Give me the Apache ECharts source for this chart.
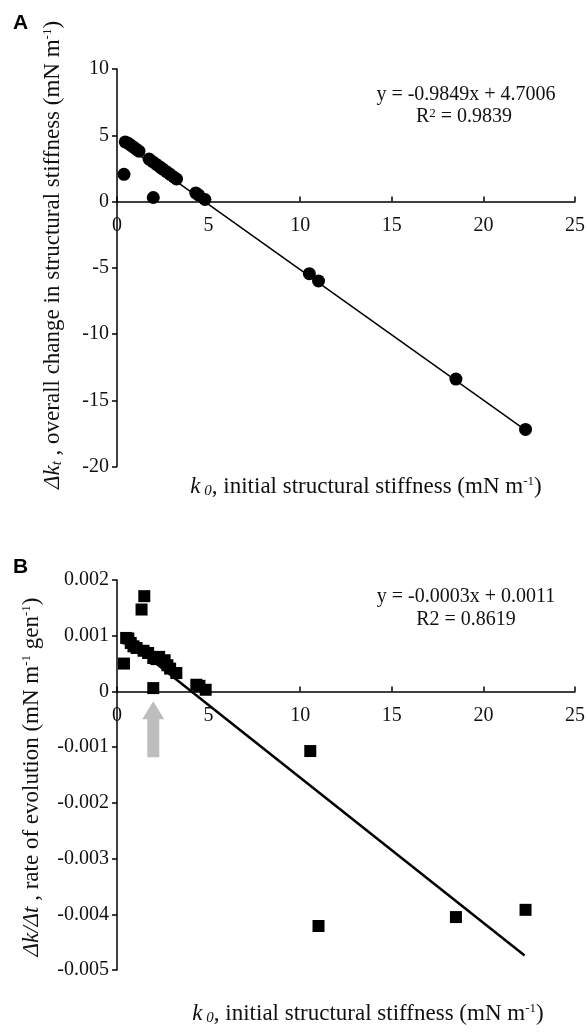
<!DOCTYPE html>
<html>
<head>
<meta charset="utf-8">
<script src="https://cdn.jsdelivr.net/npm/echarts@6/dist/echarts.min.js"></script>
<style>
  html, body { margin: 0; padding: 0; background: #fff; }
  #chart { width: 588px; height: 1032px; }
</style>
</head>
<body>
<div id="chart"></div>
<script>
// panel A: overall change in stiffness vs initial stiffness
const kA = [0.38, 0.45, 0.6, 0.75, 0.9, 1.05, 1.2, 1.75, 1.95, 2.15, 2.35, 2.5, 2.7, 2.9, 3.1, 3.25, 1.98, 4.3, 4.45, 4.8, 10.5, 11.0, 18.5, 22.3];
const dkA = [2.05, 4.5, 4.4, 4.25, 4.1, 3.95, 3.8, 3.2, 3.0, 2.8, 2.6, 2.45, 2.25, 2.05, 1.85, 1.7, 0.3, 0.65, 0.5, 0.15, -5.45, -6.0, -13.4, -17.2];
const trendA = [[0.3, 4.4], [22.3, -17.26]];

// panel B: rate of evolution vs initial stiffness
const kB = [0.38, 0.5, 0.62, 0.75, 0.9, 1.07, 1.34, 1.49, 1.45, 1.7, 1.98, 2.15, 2.3, 2.6, 2.75, 2.9, 3.24, 1.98, 4.33, 4.5, 4.84, 10.55, 11.0, 18.5, 22.3];
const rateB = [0.0005, 0.00096, 0.00095, 0.00087, 0.00081, 0.00078, 0.00147, 0.00171, 0.00073, 0.00069, 0.0006, 0.00058, 0.00062, 0.00056, 0.00047, 0.00041, 0.00033, 0.00006, 0.00012, 0.0001, 0.00003, -0.00107, -0.00421, -0.00405, -0.00392];
const trendB = [[0.38, 0.00096], [22.25, -0.00474]];
const arrowAt = [1.98, -0.00068];

const xTicks = [0, 25, 5];       // min, max, interval
const yTicksA = [-20, 10, 5];
const yTicksB = [-0.005, 0.002, 0.001];

function zip(xs, ys) { return xs.map((x, i) => [x, ys[i]]); }

// grid boxes (px)
const gridA = { top: 69, height: 397.5 };
const gridB = { top: 580, height: 390 };
// distance from grid bottom up to the y = 0 line, so the x axis sits on zero
function zeroOffset(g, yt) {
  return -g.height * (0 - yt[0]) / (yt[1] - yt[0]);
}

const serif = 'Liberation Serif';
const rich = {
  i: { fontFamily: serif, fontSize: 23, fontStyle: 'italic' },
  sub: { fontFamily: serif, fontSize: 15, fontStyle: 'italic', verticalAlign: 'bottom' },
  sup: { fontFamily: serif, fontSize: 13, verticalAlign: 'top' }
};

function txt(text, x, y, size, rot) {
  return {
    type: 'text', x: x, y: y, rotation: rot || 0,
    style: {
      text: text, fontFamily: serif, fontSize: size, fill: '#111',
      align: 'center', verticalAlign: 'middle', rich: rich
    }
  };
}

const axisLine = { lineStyle: { color: '#000', width: 1.5 } };
const labelStyle = { fontFamily: serif, fontSize: 20, color: '#111' };

let chart = echarts.init(document.getElementById('chart'));
chart.setOption({
  animation: false,
  grid: [
    { left: 117, right: 11, top: gridA.top, height: gridA.height },
    { left: 117, right: 11, top: gridB.top, height: gridB.height }
  ],
  xAxis: [[gridA, yTicksA], [gridB, yTicksB]].map((p, i) => ({
    type: 'value', gridIndex: i,
    min: xTicks[0], max: xTicks[1], interval: xTicks[2],
    offset: zeroOffset(p[0], p[1]),
    axisLine: Object.assign({ onZero: false }, axisLine),
    axisTick: { inside: true, length: 5, lineStyle: { color: '#000', width: 1.5 } },
    axisLabel: Object.assign({ margin: 14 }, labelStyle),
    splitLine: { show: false }
  })),
  yAxis: [
    {
      type: 'value', gridIndex: 0,
      min: yTicksA[0], max: yTicksA[1], interval: yTicksA[2],
      axisLine: Object.assign({ show: true, onZero: false }, axisLine),
      axisTick: { show: true, length: 5, lineStyle: { color: '#000', width: 1.5 } },
      axisLabel: Object.assign({ margin: 8 }, labelStyle),
      splitLine: { show: false }
    },
    {
      type: 'value', gridIndex: 1,
      min: yTicksB[0], max: yTicksB[1], interval: yTicksB[2],
      axisLine: Object.assign({ show: true, onZero: false }, axisLine),
      axisTick: { show: true, length: 5, lineStyle: { color: '#000', width: 1.5 } },
      axisLabel: Object.assign({
        margin: 8,
        formatter: v => Math.abs(v) < 1e-9 ? '0' : v.toFixed(3)
      }, labelStyle),
      splitLine: { show: false }
    }
  ],
  series: [
    {
      type: 'line', xAxisIndex: 0, yAxisIndex: 0, data: trendA,
      symbol: 'none', lineStyle: { color: '#000', width: 1.5 }, z: 1
    },
    {
      type: 'scatter', xAxisIndex: 0, yAxisIndex: 0, data: zip(kA, dkA),
      symbol: 'circle', symbolSize: 13, itemStyle: { color: '#000', opacity: 1 }, z: 2
    },
    {
      type: 'line', xAxisIndex: 1, yAxisIndex: 1, data: trendB,
      symbol: 'none', lineStyle: { color: '#000', width: 2.5 }, z: 1
    },
    {
      type: 'scatter', xAxisIndex: 1, yAxisIndex: 1, data: zip(kB, rateB),
      symbol: 'rect', symbolSize: 12, itemStyle: { color: '#000', opacity: 1 }, z: 2,
      markPoint: {
        symbol: 'path://M11,0 L22,18 L17,18 L17,56 L5,56 L5,18 L0,18 Z',
        symbolSize: [22, 56],
        itemStyle: { color: '#bdbdbd' },
        label: { show: false },
        data: [{ coord: arrowAt }]
      }
    }
  ],
  graphic: [
    { type: 'text', left: 13, top: 13, style: { text: 'A', fontFamily: 'Liberation Sans', fontWeight: 'bold', fontSize: 21, fill: '#000' } },
    { type: 'text', left: 13, top: 557, style: { text: 'B', fontFamily: 'Liberation Sans', fontWeight: 'bold', fontSize: 21, fill: '#000' } },
    txt('y = -0.9849x + 4.7006', 466, 95, 20),
    txt('R{sup|2} = 0.9839', 464, 117, 20),
    txt('y = -0.0003x + 0.0011', 466, 597, 20),
    txt('R2 = 0.8619', 466, 620, 20),
    txt('{i|k}{sub| 0}, initial structural stiffness (mN m{sup|-1})', 366, 487, 23),
    txt('{i|k}{sub| 0}, initial structural stiffness (mN m{sup|-1})', 368, 1014, 23),
    txt('{i|Δk}{sub|t} , overall change in structural stiffness (mN m{sup|-1})', 53, 255, 23, Math.PI / 2),
    txt('{i|Δk/Δt} , rate of evolution (mN m{sup|-1} gen{sup|-1})', 32, 777, 23, Math.PI / 2)
  ]
});
</script>
</body>
</html>
